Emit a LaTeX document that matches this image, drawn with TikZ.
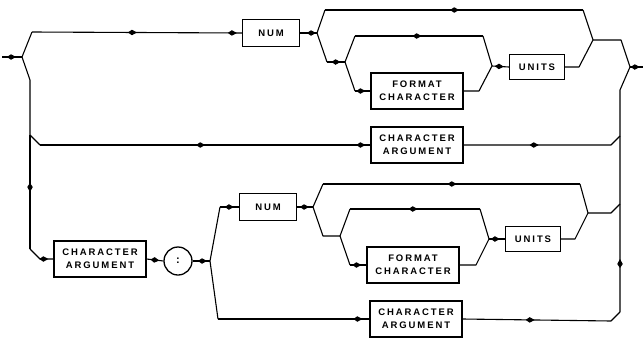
\documentclass[tikz,border=0pt]{standalone}
\usepackage{fontspec}
\newfontfamily\boxfont[LetterSpace=20]{Liberation Sans Bold}
\usetikzlibrary{arrows.meta,decorations.markings}
\tikzset{
  conn/.style={line width=1.1pt, line join=round},
  arr/.style={postaction={decorate,decoration={markings,
      mark=at position #1 with {\arrow{Kite[length=9pt,width=5.5pt,inset=4pt]}}}}},
  boxbase/.style={draw, line width=1.3pt, inner sep=0pt, align=center,
      font={\boxfont\fontsize{9.5}{13}\selectfont}},
  smallbox/.style={boxbase, minimum width=57pt, minimum height=27pt},
  unitbox/.style={boxbase, minimum width=55pt, minimum height=25pt},
  widebox/.style={boxbase, minimum width=92pt, minimum height=36pt},
  colonnode/.style={draw, circle, line width=1.3pt, minimum size=28pt, inner sep=0pt,
      font={\boxfont\fontsize{11}{12}\selectfont}}
}
\begin{document}
\begin{tikzpicture}[x=1pt,y=-1pt]
\useasboundingbox (0,0) rectangle (643,341);

% ---------- boxes ----------
\node[smallbox] (num1) at (271,33) {NUM};
\node[widebox]  (fc1)  at (417,91) {FORMAT\\CHARACTER};
\node[unitbox]  (units1) at (537,67) {UNITS};
\node[widebox]  (ca1)  at (417,145) {CHARACTER\\ARGUMENT};

\node[widebox]  (ca2)  at (100,259) {CHARACTER\\ARGUMENT};
\node[colonnode] (colon) at (178,261) {:};
\node[smallbox] (num2) at (268,207) {NUM};
\node[widebox]  (fc2)  at (413,265) {FORMAT\\CHARACTER};
\node[unitbox]  (units2) at (533,239) {UNITS};
\node[widebox]  (ca3)  at (416,319) {CHARACTER\\ARGUMENT};

% ---------- points of the main track ----------
\coordinate (in0) at (2,57);
\coordinate (s0) at (22,57);
\coordinate (u0) at (32,32);
\coordinate (l0) at (30,80);
\coordinate (l1) at (30,135);
\coordinate (l2) at (40,145);
\coordinate (l3) at (30,249);
\coordinate (l4) at (40,259);

% entry and left rail
\draw[conn, arr=0.7] (in0) -- (s0);
\draw[conn] (s0) -- (u0);
\draw[conn, arr=0.5, arr=-5pt] (u0) -- (num1.west);
\draw[conn] (s0) -- (l0) -- (l1) -- (l2);
\draw[conn, arr=0.5, arr=-5pt] (l2) -- (ca1.west);
\draw[conn, arr=0.5] (l1) -- (l3);
\draw[conn, arr=-5pt] (l3) -- (l4) -- (ca2.west);

% ---------- upper group after NUM ----------
\coordinate (s1) at (317,33);
\coordinate (t0) at (325,10);
\coordinate (t1) at (583,10);
\coordinate (j1) at (593,40);
\coordinate (d0) at (327,62);
\coordinate (s2) at (345,62);
\coordinate (e0) at (355,36);
\coordinate (e1) at (483,36);
\coordinate (j2) at (492,66);
\coordinate (f0) at (355,91);
\coordinate (g0) at (479,91);
\coordinate (h0) at (579,67);

\draw[conn, arr=-1pt] (num1.east) -- (s1);
\draw[conn] (s1) -- (t0);
\draw[conn, arr=0.52] (t0) -- (t1);
\draw[conn] (t1) -- (j1);
\draw[conn] (s1) -- (d0);
\draw[conn, arr=0.75] (d0) -- (s2);
\draw[conn] (s2) -- (e0);
\draw[conn, arr=0.52] (e0) -- (e1);
\draw[conn] (e1) -- (j2);
\draw[conn] (s2) -- (f0);
\draw[conn, arr=-5pt] (f0) -- (fc1.west);
\draw[conn] (fc1.east) -- (g0) -- (j2);
\draw[conn, arr=-5pt] (j2) -- (units1.west);
\draw[conn] (units1.east) -- (h0) -- (j1);

% ---------- exit and right rail ----------
\coordinate (k0) at (621,40);
\coordinate (r0) at (630,67);
\coordinate (out) at (643,67);
\coordinate (r1) at (620,90);
\coordinate (m0) at (611,145);
\coordinate (m1) at (620,136);
\coordinate (rn) at (620,204);
\coordinate (rb) at (620,312);

\draw[conn] (j1) -- (k0) -- (r0);
\draw[conn, arr=0.75] (r0) -- (out);
\draw[conn, arr=53pt] (rb) -- (r1) -- (r0);
\draw[conn, arr=75pt] (ca1.east) -- (m0) -- (m1);

% ---------- lower group ----------
\coordinate (s3) at (210,261);
\coordinate (p0) at (220,207);
\coordinate (q0) at (218,319);
\coordinate (s4) at (313,207);
\coordinate (v0) at (323,184);
\coordinate (v1) at (580,184);
\coordinate (j4) at (588,213);
\coordinate (w0) at (323,236);
\coordinate (s5) at (340,236);
\coordinate (x0) at (350,209);
\coordinate (x1) at (480,209);
\coordinate (j5) at (489,239);
\coordinate (y0) at (350,265);
\coordinate (z0) at (476,265);
\coordinate (z1) at (575,239);
\coordinate (z2) at (611,213);
\coordinate (z3) at (611,321);

\draw[conn, arr=-4pt] (ca2.east) -- (colon.west);
\draw[conn, arr=-3pt] (colon.east) -- (s3);
\draw[conn] (s3) -- (p0);
\draw[conn, arr=-5pt] (p0) -- (num2.west);
\draw[conn] (s3) -- (q0);
\draw[conn, arr=-7pt] (q0) -- (ca3.west);

\draw[conn, arr=-4pt] (num2.east) -- (s4);
\draw[conn] (s4) -- (v0);
\draw[conn, arr=0.52] (v0) -- (v1);
\draw[conn] (v1) -- (j4);
\draw[conn] (s4) -- (w0) -- (s5);
\draw[conn] (s5) -- (x0);
\draw[conn, arr=0.52] (x0) -- (x1);
\draw[conn] (x1) -- (j5);
\draw[conn] (s5) -- (y0);
\draw[conn, arr=-5pt] (y0) -- (fc2.west);
\draw[conn] (fc2.east) -- (z0) -- (j5);
\draw[conn, arr=-5pt] (j5) -- (units2.west);
\draw[conn] (units2.east) -- (z1) -- (j4);
\draw[conn] (j4) -- (z2) -- (rn);
\draw[conn, arr=72pt] (ca3.east) -- (z3) -- (rb);
\end{tikzpicture}
\end{document}
